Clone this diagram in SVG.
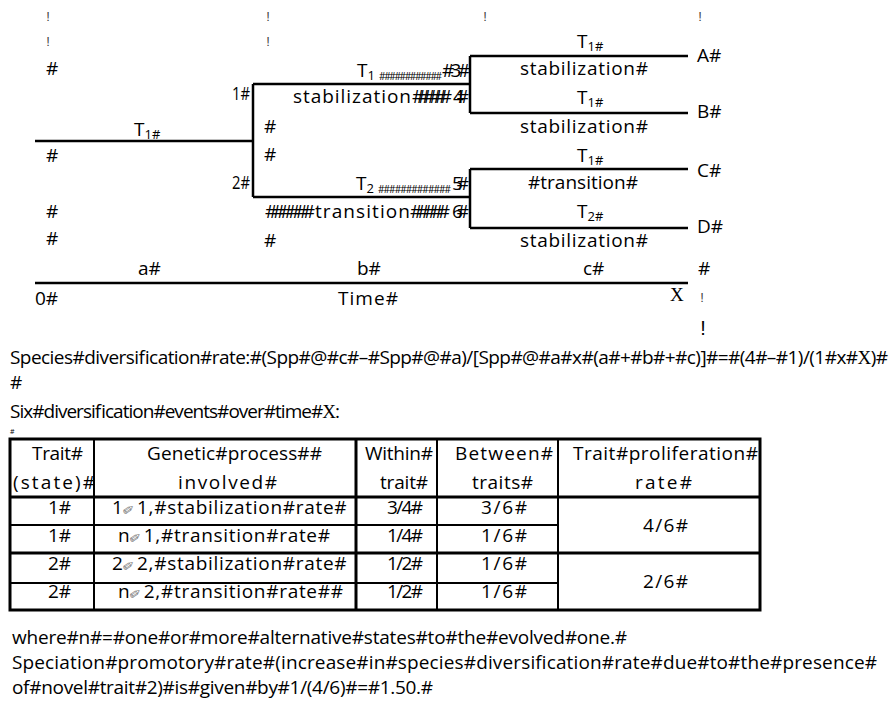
<svg xmlns="http://www.w3.org/2000/svg" width="891" height="709" viewBox="0 0 891 709">
<style>
text{font-family:"Open Sans","Noto Sans",sans-serif;font-size:19px;fill:#000}
.s{font-size:13px}
.hs{font-size:10px}
.ex{fill:#444;font-size:13px;text-anchor:middle;font-family:"Liberation Sans",sans-serif}
.exb{font-size:20px;text-anchor:middle;font-family:"Liberation Sans",sans-serif}
.serif{font-family:"Liberation Serif",serif}
.pen{font-family:"DejaVu Sans",sans-serif;fill:#777;font-size:14px}
.gp{letter-spacing:0.7px}
.ln{stroke:#000;stroke-width:2.5;fill:none}
.tb{stroke:#000;stroke-width:3;fill:none}
.tt{stroke:#000;stroke-width:2;fill:none}
.tiny{font-size:7px}
</style>
<rect width="891" height="709" fill="#fff"/>
<g id="guides">
<text class="ex" x="48" y="21">!</text>
<text class="ex" x="48" y="46">!</text>
<text class="ex" x="268" y="21">!</text>
<text class="ex" x="268" y="46">!</text>
<text class="ex" x="485" y="21">!</text>
<text class="ex" x="700" y="21">!</text>
<text x="46" y="75">#</text>
<text x="46" y="162">#</text>
<text x="46" y="218">#</text>
<text x="46" y="245">#</text>
<text x="264" y="133">#</text>
<text x="264" y="161">#</text>
<text x="264" y="247">#</text>
</g>
<g id="connectors">
<path class="ln" d="M35,141H253M253,84V197M253,84H470M253,197H470M470,56V113M470,56H688M470,113H688M470,169V228M470,169H688M470,228H688"/>
<path class="ln" d="M35,283H688"/>
</g>
<g id="root">
<text x="134" y="136">T<tspan class="s" dy="3">1#</tspan></text>
</g>
<g id="node-1">
<text x="232" y="100" textLength="18" lengthAdjust="spacingAndGlyphs">1#</text>
<text x="357" y="77">T<tspan class="s" dy="3">1</tspan></text>
<text class="hs" x="379" y="80" textLength="63" lengthAdjust="spacing">############</text>
<text x="442" y="77" textLength="28" lengthAdjust="spacing">#3#</text>
<text x="293" y="103" textLength="118" lengthAdjust="spacing">stabilization</text>
<text x="412" y="103" textLength="40" lengthAdjust="spacing">######</text>
<text x="453" y="103" textLength="16" lengthAdjust="spacing">4#</text>
</g>
<g id="node-2">
<text x="232" y="189" textLength="18" lengthAdjust="spacingAndGlyphs">2#</text>
<text x="356" y="190">T<tspan class="s" dy="3">2</tspan></text>
<text class="hs" x="378" y="193" textLength="73" lengthAdjust="spacing">#############</text>
<text x="452" y="190" textLength="17" lengthAdjust="spacing">5#</text>
<text x="265" y="218" textLength="50" lengthAdjust="spacing">######</text>
<text x="315" y="218" textLength="95" lengthAdjust="spacing">transition</text>
<text x="410" y="218" textLength="40" lengthAdjust="spacing">#####</text>
<text x="452" y="218" textLength="17" lengthAdjust="spacing">6#</text>
</g>
<g id="tip-A">
<text x="577" y="48">T<tspan class="s" dy="3">1#</tspan></text>
<text x="520" y="75" textLength="128" lengthAdjust="spacing">stabilization#</text>
<text x="697" y="62">A#</text>
</g>
<g id="tip-B">
<text x="577" y="104">T<tspan class="s" dy="3">1#</tspan></text>
<text x="520" y="133" textLength="128" lengthAdjust="spacing">stabilization#</text>
<text x="697" y="118">B#</text>
</g>
<g id="tip-C">
<text x="577" y="162">T<tspan class="s" dy="3">1#</tspan></text>
<text x="528" y="189" textLength="110" lengthAdjust="spacing">#transition#</text>
<text x="697" y="177">C#</text>
</g>
<g id="tip-D">
<text x="577" y="218">T<tspan class="s" dy="3">2#</tspan></text>
<text x="520" y="247" textLength="128" lengthAdjust="spacing">stabilization#</text>
<text x="697" y="233">D#</text>
</g>
<g id="axis">
<text x="138" y="275">a#</text>
<text x="357" y="275">b#</text>
<text x="583" y="275">c#</text>
<text x="698" y="275">#</text>
<text x="35" y="305">0#</text>
<text x="338" y="305" textLength="60" lengthAdjust="spacing">Time#</text>
<text class="serif" x="670" y="301" font-size="21">X</text>
<text class="ex" x="702" y="302">!</text>
<text class="exb" x="703" y="335">!</text>
</g>
<g id="formula">
<text x="10" y="364" textLength="878" lengthAdjust="spacing">Species#diversification#rate:#(Spp#@#c#–#Spp#@#a)/[Spp#@#a#x#(a#+#b#+#c)]#=#(4#–#1)/(1#x#<tspan class="serif">X</tspan>)#</text>
<text x="10" y="389">#</text>
<text x="10" y="418" textLength="330" lengthAdjust="spacing">Six#diversification#events#over#time#<tspan class="serif">X</tspan>:</text>
<text class="tiny" x="10" y="434">#</text>
</g>
<g id="table">
<rect class="tb" x="10" y="439" width="750" height="171"/>
<path class="tb" d="M10,497H760M10,553H760M356,439V610"/>
<path class="tt" d="M10,525H558M10,583H558M94,439V610M437,439V610M558,439V610"/>
<text x="32" y="460" textLength="51" lengthAdjust="spacing">Trait#</text>
<text x="13" y="489" textLength="82" lengthAdjust="spacing">(state)#</text>
<text x="147" y="460" textLength="175" lengthAdjust="spacing">Genetic#process##</text>
<text x="178" y="489" textLength="99" lengthAdjust="spacing">involved#</text>
<text x="365" y="460" textLength="68" lengthAdjust="spacing">Within#</text>
<text x="380" y="489" textLength="48" lengthAdjust="spacing">trait#</text>
<text x="455" y="460" textLength="98" lengthAdjust="spacing">Between#</text>
<text x="472" y="489" textLength="61" lengthAdjust="spacing">traits#</text>
<text x="573" y="460" textLength="185" lengthAdjust="spacing">Trait#proliferation#</text>
<text x="635" y="489" textLength="57" lengthAdjust="spacing">rate#</text>
<text x="48" y="514">1#</text>
<text x="48" y="542">1#</text>
<text x="48" y="570">2#</text>
<text x="48" y="598">2#</text>
<text class="gp" x="112" y="514">1<tspan class="pen" dx="3" dy="3" rotate="-35">✏</tspan><tspan dx="-2" dy="-3">1,#stabilization#rate#</tspan></text>
<text class="gp" x="118" y="542">n<tspan class="pen" dx="3" dy="3" rotate="-35">✏</tspan><tspan dx="-2" dy="-3">1,#transition#rate#</tspan></text>
<text class="gp" x="112" y="570">2<tspan class="pen" dx="3" dy="3" rotate="-35">✏</tspan><tspan dx="-2" dy="-3">2,#stabilization#rate#</tspan></text>
<text class="gp" x="118" y="598">n<tspan class="pen" dx="3" dy="3" rotate="-35">✏</tspan><tspan dx="-2" dy="-3">2,#transition#rate##</tspan></text>
<text x="387" y="514" textLength="36" lengthAdjust="spacing">3/4#</text>
<text x="387" y="542" textLength="36" lengthAdjust="spacing">1/4#</text>
<text x="387" y="570" textLength="36" lengthAdjust="spacing">1/2#</text>
<text x="387" y="598" textLength="36" lengthAdjust="spacing">1/2#</text>
<text x="481" y="514" textLength="46" lengthAdjust="spacing">3/6#</text>
<text x="481" y="542" textLength="46" lengthAdjust="spacing">1/6#</text>
<text x="481" y="570" textLength="46" lengthAdjust="spacing">1/6#</text>
<text x="481" y="598" textLength="46" lengthAdjust="spacing">1/6#</text>
<text x="643" y="532" textLength="45" lengthAdjust="spacing">4/6#</text>
<text x="643" y="588" textLength="45" lengthAdjust="spacing">2/6#</text>
</g>
<g id="notes">
<text x="12" y="644" textLength="615" lengthAdjust="spacing">where#n#=#one#or#more#alternative#states#to#the#evolved#one.#</text>
<text x="12" y="669" textLength="865" lengthAdjust="spacing">Speciation#promotory#rate#(increase#in#species#diversification#rate#due#to#the#presence#</text>
<text x="12" y="694" textLength="421" lengthAdjust="spacing">of#novel#trait#2)#is#given#by#1/(4/6)#=#1.50.#</text>
</g>
</svg>
